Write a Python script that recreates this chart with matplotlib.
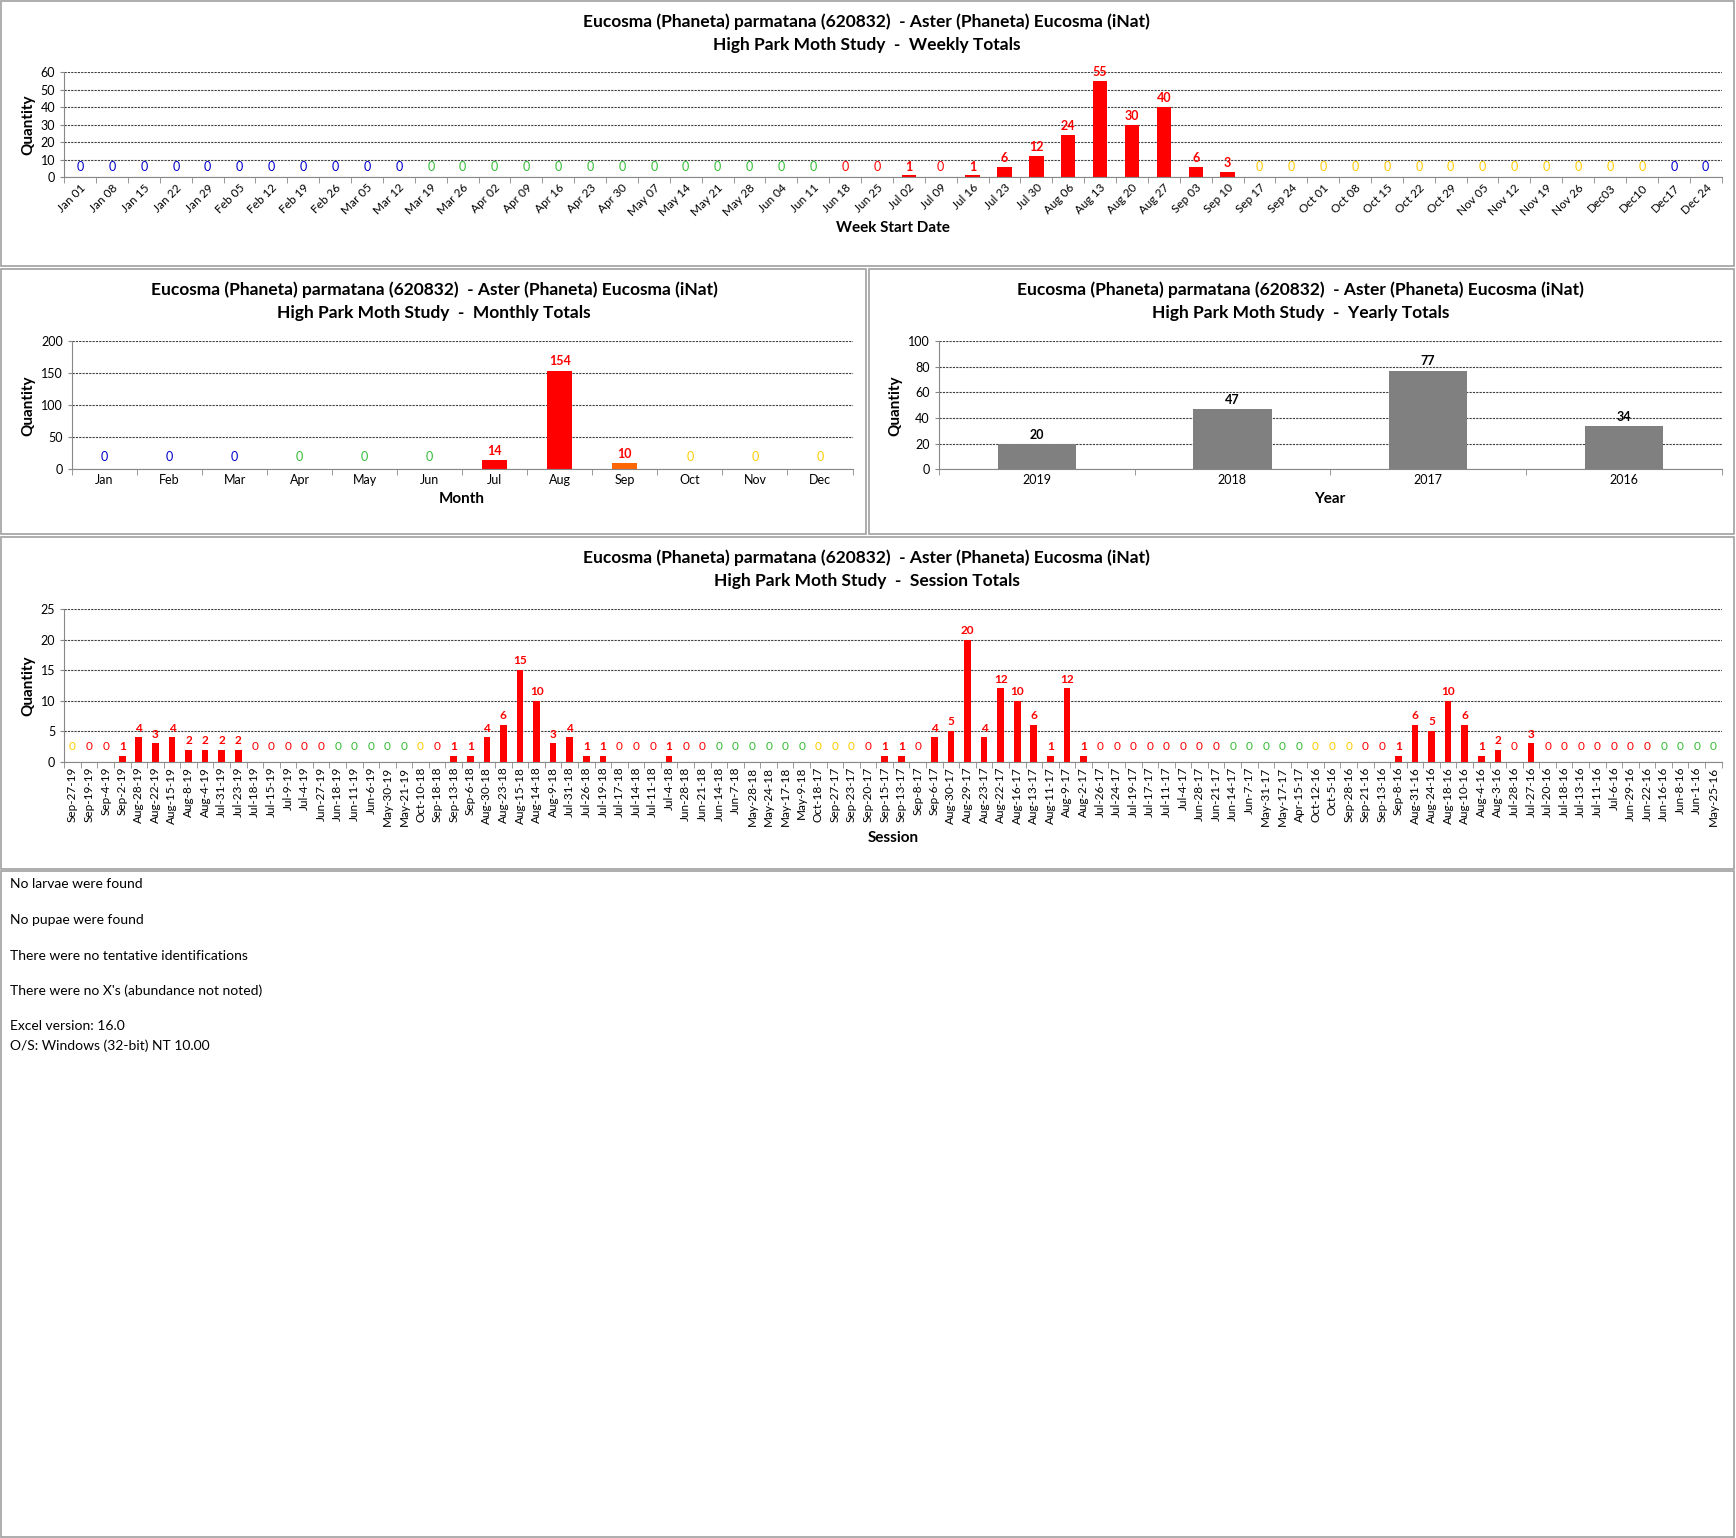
import matplotlib
matplotlib.use("Agg")
import matplotlib.pyplot as plt
from matplotlib.patches import Rectangle
import numpy as np

plt.rcParams['font.family'] = ['Lato', 'DejaVu Sans']

TITLE = "Eucosma (Phaneta) parmatana (620832)  - Aster (Phaneta) Eucosma (iNat)"
RED, BLUE, GREEN, YEL = "#ff0000", "#0000cc", "#33bb33", "#ffcc00"

week_labels = ["Jan 01","Jan 08","Jan 15","Jan 22","Jan 29","Feb 05","Feb 12","Feb 19","Feb 26","Mar 05","Mar 12",
 "Mar 19","Mar 26","Apr 02","Apr 09","Apr 16","Apr 23","Apr 30","May 07","May 14","May 21","May 28","Jun 04","Jun 11",
 "Jun 18","Jun 25","Jul 02","Jul 09","Jul 16","Jul 23","Jul 30","Aug 06","Aug 13","Aug 20","Aug 27","Sep 03","Sep 10",
 "Sep 17","Sep 24","Oct 01","Oct 08","Oct 15","Oct 22","Oct 29","Nov 05","Nov 12","Nov 19","Nov 26","Dec03","Dec10","Dec17","Dec 24"]
week_values = [0]*26 + [1,0,1,6,12,24,55,30,40,6,3] + [0]*15
week_colors = [BLUE]*11 + [GREEN]*13 + [RED]*13 + [YEL]*13 + [BLUE]*2

month_labels = ["Jan","Feb","Mar","Apr","May","Jun","Jul","Aug","Sep","Oct","Nov","Dec"]
month_values = [0,0,0,0,0,0,14,154,10,0,0,0]
month_colors = [BLUE]*3 + [GREEN]*3 + [RED]*3 + [YEL]*3

year_labels = ["2019","2018","2017","2016"]
year_values = [20,47,77,34]

session_labels = ["Sep-27-19","Sep-19-19","Sep-4-19","Sep-2-19","Aug-28-19","Aug-22-19","Aug-15-19","Aug-8-19","Aug-4-19",
 "Jul-31-19","Jul-23-19","Jul-18-19","Jul-15-19","Jul-9-19","Jul-4-19","Jun-27-19","Jun-18-19","Jun-11-19","Jun-6-19",
 "May-30-19","May-21-19","Oct-10-18","Sep-18-18","Sep-13-18","Sep-6-18","Aug-30-18","Aug-23-18","Aug-15-18","Aug-14-18",
 "Aug-9-18","Jul-31-18","Jul-26-18","Jul-19-18","Jul-17-18","Jul-14-18","Jul-11-18","Jul-4-18","Jun-28-18","Jun-21-18",
 "Jun-14-18","Jun-7-18","May-28-18","May-24-18","May-17-18","May-9-18","Oct-18-17","Sep-27-17","Sep-23-17","Sep-20-17",
 "Sep-15-17","Sep-13-17","Sep-8-17","Sep-6-17","Aug-30-17","Aug-29-17","Aug-23-17","Aug-22-17","Aug-16-17","Aug-13-17",
 "Aug-11-17","Aug-9-17","Aug-2-17","Jul-26-17","Jul-24-17","Jul-19-17","Jul-17-17","Jul-11-17","Jul-4-17","Jun-28-17",
 "Jun-21-17","Jun-14-17","Jun-7-17","May-31-17","May-17-17","Apr-15-17","Oct-12-16","Oct-5-16","Sep-28-16","Sep-21-16",
 "Sep-13-16","Sep-8-16","Aug-31-16","Aug-24-16","Aug-18-16","Aug-10-16","Aug-4-16","Aug-3-16","Jul-28-16","Jul-27-16",
 "Jul-20-16","Jul-18-16","Jul-13-16","Jul-11-16","Jul-6-16","Jun-29-16","Jun-22-16","Jun-16-16","Jun-8-16","Jun-1-16","May-25-16"]
session_values = [0,0,0,1,4,3,4,2,2,2,2,0,0,0,0,0,0,0,0,0,0,0,0,1,1,4,6,15,10,3,4,1,1,0,0,0,1,0,0,0,0,0,0,0,0,0,0,0,0,
 1,1,0,4,5,20,4,12,10,6,1,12,1,0,0,0,0,0,0,0,0,0,0,0,0,0,0,0,0,0,0,1,6,5,10,6,1,2,0,3,0,0,0,0,0,0,0,0,0,0,0]
zero_color = {"Oct":YEL,"Sep":RED,"Aug":RED,"Jul":RED,"Jun":GREEN,"May":GREEN,"Apr":GREEN}
def scol(lbl, v):
    m = lbl[:3]
    d = int(lbl.split("-")[1])
    if v > 0: return RED
    if m == "Sep" and d >= 23: return YEL
    if m == "Jun" and d >= 27: return RED
    if m == "Jun" and d >= 21 and lbl.endswith(("17","18","16")): return RED
    return zero_color[m]
session_colors = [scol(l, v) for l, v in zip(session_labels, session_values)]

fig = plt.figure(figsize=(17.36, 15.38), dpi=100)
W, H = 1568, 1389
def box(x0, y0, x1, y1):
    fig.add_artist(Rectangle((x0/W, 1-y1/H), (x1-x0)/W, (y1-y0)/H, transform=fig.transFigure,
                             fill=False, ec="#a0a0a0", lw=1.2))
box(1, 1, 1566, 240); box(1, 243, 782, 482); box(785, 243, 1566, 482); box(1, 485, 1566, 785); box(1, 787, 1566, 1388)

def ax_at(x0, y0, x1, y1):
    return fig.add_axes([x0/W, 1-y1/H, (x1-x0)/W, (y1-y0)/H])

def style(ax, ymax, step, fs=9):
    ax.set_ylim(0, ymax)
    ax.set_yticks(np.arange(0, ymax+1, step))
    ax.yaxis.grid(True, ls=(0, (2, 1)), color="#404040", lw=0.8)
    ax.set_axisbelow(True)
    for s in ["top", "right"]: ax.spines[s].set_visible(False)
    for s in ["left", "bottom"]: ax.spines[s].set_color("#888888")
    ax.tick_params(axis="y", labelsize=fs, length=3, color="#888888")
    ax.tick_params(axis="x", length=0)
    ax.set_ylabel("Quantity", fontsize=11, fontweight="bold")

def title(xc, y, sub):
    fig.text(xc/W, 1-y/H, TITLE, ha="center", va="center", fontsize=12.5, fontweight="bold")
    fig.text(xc/W, 1-(y+21)/H, "High Park Moth Study  -  " + sub, ha="center", va="center", fontsize=12.5, fontweight="bold")

def labels(ax, vals, cols, ymax, fs=8.5):
    for i, (v, c) in enumerate(zip(vals, cols)):
        ax.text(i, v + ymax*0.025 if v > 0 else ymax*0.1, str(v), ha="center", va="bottom" if v > 0 else "center",
                color=c, fontsize=fs, fontweight="bold" if v > 0 else "normal")

def xbounds(ax, n):
    ax.set_xlim(-0.5, n-0.5)
    ax.set_xticks(np.arange(n+1)-0.5, minor=True)
    ax.tick_params(axis="x", which="minor", length=4, color="#888888")

# Weekly
title(783, 20, "Weekly Totals")
ax = ax_at(58, 65, 1555, 160)
x = np.arange(len(week_values))
ax.bar(x, week_values, width=0.45, color=RED)
style(ax, 60, 10)
xbounds(ax, len(x))
ax.set_xticks(x); ax.set_xticklabels(week_labels, rotation=45, ha="right", fontsize=8.5, rotation_mode="anchor")
labels(ax, week_values, week_colors, 60, 9)
ax.set_xlabel("Week Start Date", fontsize=11, fontweight="bold", labelpad=2)

# Monthly
title(392, 262, "Monthly Totals")
ax = ax_at(65, 308, 770, 424)
x = np.arange(12)
mc = [RED]*8 + ["#ff6600"] + [RED]*3
ax.bar(x, month_values, width=0.38, color=mc)
style(ax, 200, 50)
xbounds(ax, 12)
ax.set_xticks(x); ax.set_xticklabels(month_labels, fontsize=9)
labels(ax, month_values, month_colors, 200, 9)
ax.set_xlabel("Month", fontsize=11, fontweight="bold")

# Yearly
title(1175, 262, "Yearly Totals")
ax = ax_at(848, 308, 1555, 424)
x = np.arange(4)
ax.bar(x, year_values, width=0.4, color="#808080")
style(ax, 100, 20)
xbounds(ax, 4)
ax.set_xticks(x); ax.set_xticklabels(year_labels, fontsize=9)
for i, v in enumerate(year_values):
    ax.text(i, v + 2.5, str(v), ha="center", va="bottom", fontsize=9, fontweight="bold")
ax.set_xlabel("Year", fontsize=11, fontweight="bold")

# Session
title(783, 504, "Session Totals")
ax = ax_at(58, 550, 1555, 688)
x = np.arange(len(session_values))
ax.bar(x, session_values, width=0.4, color=RED)
style(ax, 25, 5)
xbounds(ax, len(x))
ax.set_xticks(x); ax.set_xticklabels(session_labels, rotation=90, fontsize=8.5)
labels(ax, session_values, session_colors, 25, 8.5)
ax.set_xlabel("Session", fontsize=11, fontweight="bold")

notes = [(798, "No larvae were found"), (831, "No pupae were found"), (863, "There were no tentative identifications"),
         (895, "There were no X's (abundance not noted)"), (927, "Excel version: 16.0"), (944, "O/S: Windows (32-bit) NT 10.00")]
for y, t in notes:
    fig.text(9/W, 1-y/H, t, ha="left", va="center", fontsize=10)

fig.savefig("out.png", dpi=100)
